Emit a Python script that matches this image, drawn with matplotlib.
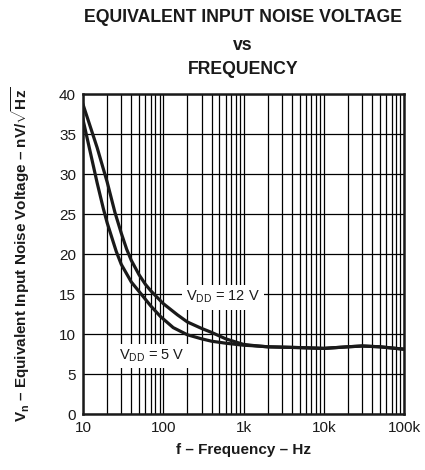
import matplotlib

matplotlib.use("Agg")
import matplotlib.pyplot as plt
from matplotlib.ticker import FixedLocator, LogLocator, NullFormatter

plt.rcParams["font.family"] = ["Liberation Sans", "DejaVu Sans"]
plt.rcParams["mathtext.fontset"] = "custom"
plt.rcParams["mathtext.rm"] = "Liberation Sans"
plt.rcParams["mathtext.it"] = "Liberation Sans"
plt.rcParams["mathtext.bf"] = "Liberation Sans:bold"

# values
freq_12v = [10, 15, 20, 25, 30, 35, 40, 50, 60, 70, 80, 100, 150, 200,
            300, 400, 600, 800, 1000, 1500, 2000, 5000, 10000, 20000, 30000,
            50000, 100000]
vn_12v = [38.7, 33.3, 29.0, 25.2, 22.6, 20.6, 19.2, 17.4, 16.2, 15.4, 14.8,
          13.8, 12.4, 11.5, 10.7, 10.2, 9.4, 9.0, 8.7, 8.5, 8.4, 8.3,
          8.2, 8.4, 8.5, 8.4, 8.1]

freq_5v = [10, 15, 18, 20, 26, 30, 40, 54, 70, 92, 133, 200, 300, 400, 600,
           1000, 1500, 2000, 5000, 10000, 20000, 30000, 50000, 100000]
vn_5v = [36.8, 28.9, 25.6, 23.9, 20.3, 18.7, 16.5, 14.9, 13.5, 12.2, 10.8,
         9.9, 9.4, 9.1, 8.85, 8.6, 8.5, 8.4, 8.3, 8.2, 8.4, 8.5, 8.4, 8.1]

x_ticks = [10, 100, 1000, 10000, 100000]
x_tick_labels = ["10", "100", "1k", "10k", "100k"]
y_ticks = [0, 5, 10, 15, 20, 25, 30, 35, 40]

fig = plt.figure(figsize=(4.25, 4.7), dpi=100)
ax = fig.add_axes([83 / 425, 56 / 470, 321 / 425, 320 / 470])

ax.set_xscale("log")
ax.set_xlim(10, 100000)
ax.set_ylim(0, 40)

ax.plot(freq_12v, vn_12v, color="#1a1a1a", linewidth=2.3, zorder=3,
        solid_joinstyle="round")
ax.plot(freq_5v, vn_5v, color="#1a1a1a", linewidth=2.3, zorder=3,
        solid_joinstyle="round")

ax.xaxis.set_major_locator(FixedLocator(x_ticks))
ax.set_xticklabels(x_tick_labels)
ax.xaxis.set_minor_locator(LogLocator(base=10, subs=range(2, 10)))
ax.xaxis.set_minor_formatter(NullFormatter())
ax.set_yticks(y_ticks)

ax.grid(True, which="both", axis="x", color="black", linewidth=0.9)
ax.grid(True, which="major", axis="y", color="black", linewidth=0.9)
ax.set_axisbelow(True)
ax.tick_params(which="both", length=0, labelsize=11, pad=5, colors="#1a1a1a")
for sp in ax.spines.values():
    sp.set_linewidth(1.8)
    sp.set_color("#1a1a1a")
    sp.set_zorder(4)

ax.text(550, 14.6, r"$\mathregular{V_{DD}}$ = 12 V", fontsize=10.5,
        ha="center", va="center", color="#1a1a1a", zorder=2,
        bbox=dict(facecolor="white", edgecolor="none", pad=3))
ax.text(73, 7.25, r"$\mathregular{V_{DD}}$ = 5 V", fontsize=10.5,
        ha="center", va="center", color="#1a1a1a", zorder=2,
        bbox=dict(facecolor="white", edgecolor="none", pad=3))

ax.set_xlabel("f – Frequency – Hz", fontsize=11, fontweight="bold",
              color="#1a1a1a")
ax.xaxis.set_label_coords(0.5, -0.09)
ax.set_ylabel(r"$\mathbf{V_n}$ – Equivalent Input Noise Voltage – nV/$\sqrt{\mathbf{Hz}}$",
              fontsize=11, fontweight="bold", color="#1a1a1a")
ax.yaxis.set_label_coords(-0.16, 0.5)

cx = 243 / 425
for txt, yp in [("EQUIVALENT INPUT NOISE VOLTAGE", 18), ("vs", 45),
                ("FREQUENCY", 70)]:
    fig.text(cx, 1 - yp / 470, txt, ha="center", va="center", fontsize=12.7,
             fontweight="bold", color="#1a1a1a")

fig.savefig("out.png", dpi=100)
